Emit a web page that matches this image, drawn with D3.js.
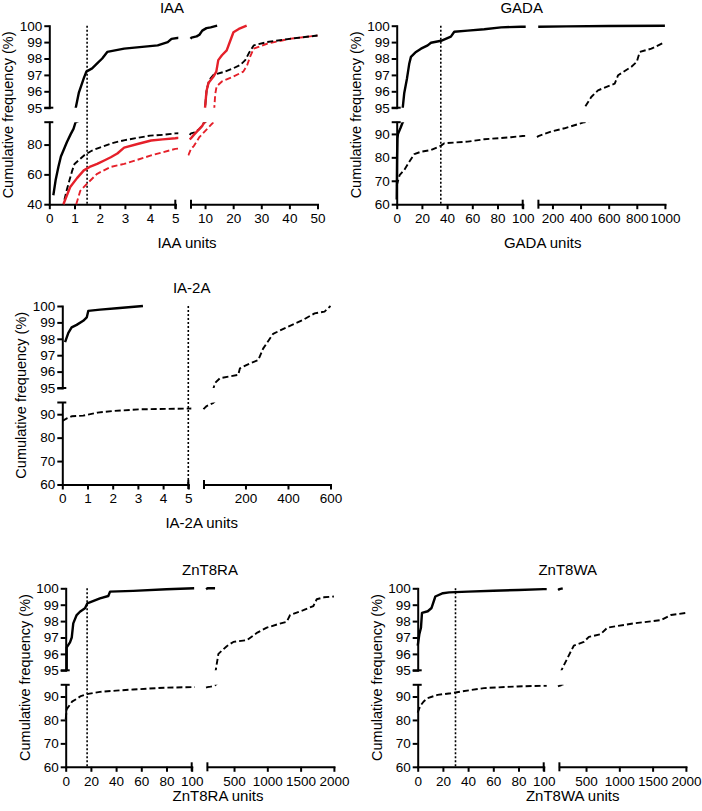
<!DOCTYPE html>
<html>
<head>
<meta charset="utf-8">
<script src="https://cdn.jsdelivr.net/npm/d3@7"></script>
<style>
body { margin: 0; background: #fff; }
text { font-family: "Liberation Sans", Arial, sans-serif; fill: #000; }
</style>
</head>
<body>
<svg id="chart" width="702" height="811"></svg>
<script>
// ---- data ----
const titles = ["IAA", "GADA", "IA-2A", "ZnT8RA", "ZnT8WA"];
const xLabels = ["IAA units", "GADA units", "IA-2A units", "ZnT8RA units", "ZnT8WA units"];
const cutoffs = [1.5, 35, 5, 17, 30];

const upperTicks = [95, 96, 97, 98, 99, 100];
const iaaLowerTicks = [40, 60, 80];
const otherLowerTicks = [60, 70, 80, 90];
const iaaLeftTicks = [0, 1, 2, 3, 4, 5];
const iaaRightTicks = [10, 20, 30, 40, 50];
const gadaLeftTicks = [0, 20, 40, 60, 80, 100];
const gadaRightTicks = [200, 400, 600, 800, 1000];
const ia2aLeftTicks = [0, 1, 2, 3, 4, 5];
const ia2aRightTicks = [200, 400, 600];
const znt8LeftTicks = [0, 20, 40, 60, 80, 100];
const znt8RightTicks = [500, 1000, 1500, 2000];

const iaaSolidBlack = [[0.16,46],[0.25,56],[0.36,65],[0.46,72],[0.56,76],[0.7,81.7],[0.85,87],[0.96,90.5],[1.03,94.3],[1.05,95],[1.17,95.9],[1.37,96.8],[1.47,97.2],[1.7,97.4],[1.9,97.7],[2.1,98.0],[2.3,98.4],[2.97,98.6],[4.3,98.8],[4.7,99.0],[4.85,99.2],[5.15,99.27],[7,99.35],[8,99.45],[9,99.7],[10.5,99.85],[12,99.9],[14.3,100]];
const iaaDashedBlack = [[0.6,43],[0.7,50],[0.8,56],[0.9,62],[1.0,67],[1.2,70],[1.4,73],[1.5,74],[1.7,76],[2.0,78],[2.5,81],[3.0,83],[3.5,84.5],[4.0,86],[4.5,86.5],[5.0,87.5],[6,88],[7,89],[8,90.5],[9,92.5],[9.6,94.6],[10.0,95.0],[10.3,95.6],[10.6,96.1],[11.5,96.7],[13,97.0],[17,97.2],[20,97.4],[22.5,97.6],[24.3,97.9],[25.5,98.3],[27.3,98.8],[32,99.0],[40,99.2],[50,99.4]];
const iaaSolidRed = [[0.56,40],[0.7,46],[0.83,51.5],[1.1,57.5],[1.37,62.7],[1.6,65],[1.9,67],[2.2,69.5],[2.44,71.5],[2.7,74],[2.97,78],[3.5,80.4],[4.04,82.7],[4.5,83.5],[5.0,84.2],[6,86.5],[7,88.5],[8,90.5],[9,92.5],[9.6,94.7],[10.0,95],[10.5,96],[11.2,96.5],[13,96.9],[14,97.2],[14.7,97.9],[16,98.2],[17.7,98.5],[19,99.1],[20.1,99.6],[22,99.8],[24.8,100]];
const iaaDashedRed = [[1.07,40],[1.23,49],[1.5,53.8],[1.9,60.4],[2.44,65],[2.97,67],[3.5,69.8],[4.04,72.7],[5.0,77.1],[6,79],[7,82],[8,85],[9,87],[10,89],[11,91],[12,93],[12.9,94.8],[13.3,95],[13.6,95.8],[14.1,96.3],[16,96.6],[20.1,96.9],[23.6,97.2],[25,97.6],[26,98.1],[27.3,98.6],[32,98.9],[40,99.2],[50,99.4]];

const gadaSolid = [[0,62],[0.3,80],[0.6,88],[1,90],[3,92.5],[4.8,95],[6,95.9],[8.2,96.8],[10,97.7],[11.3,98.1],[15.3,98.4],[19.3,98.6],[24.6,98.8],[27.2,98.96],[35.2,99.08],[43,99.33],[45.7,99.63],[56.3,99.7],[69.5,99.78],[82.8,99.9],[98.7,99.94],[300,99.96],[600,99.98],[1000,100]];
const gadaDashed = [[0,68],[2.3,72.4],[6,74.6],[10,78.1],[14,81.4],[19.3,82.4],[27.2,83.1],[35.2,85],[37.8,86],[56.3,86.7],[69.5,87.7],[90.7,88.6],[100,89.1],[190,91],[286,92.4],[405,94.6],[428,95],[476,95.65],[524,96.06],[643,96.47],[667,96.98],[762,97.5],[800,97.8],[821,98.4],[904,98.6],[1000,99]];

const ia2aSolid = [[0.11,97.8],[0.24,98.36],[0.37,98.7],[0.57,98.85],[0.83,99.1],[0.97,99.3],[1.03,99.7],[1.5,99.78],[2.16,99.86],[3.2,100]];
const ia2aDashed = [[0,87.1],[0.2,88.3],[0.37,89.1],[0.83,89.4],[1.4,90.7],[2.06,91.4],[3.1,92.1],[5,92.4],[17.6,93.5],[35,94.2],[48.6,94.8],[50,95],[56.5,95.3],[80,95.6],[166,95.8],[174,96.2],[221,96.5],[260,96.7],[270,97.0],[283,97.4],[330,98.3],[393,98.7],[470,99.15],[525,99.55],[572,99.66],[600,100]];

const znt8raSolid = [[0.8,95],[0.8,96.4],[3.4,96.7],[4.8,97],[6,97.86],[8.7,98.37],[11.3,98.57],[15.3,98.78],[17.1,99.08],[27.2,99.39],[33.8,99.53],[35.2,99.8],[53.6,99.84],[80,99.94],[102,100],[215,100]];
const znt8raDashed = [[0,80.3],[0.8,84.6],[3.4,86.5],[5,87.8],[8.7,89],[12,90.2],[16.7,91],[27.2,92],[40,92.5],[53.6,93],[80,93.8],[100,94],[150,94.2],[215,94.8],[225,95],[265,96],[391,96.47],[490,96.73],[692,96.84],[850,97.3],[992,97.6],[1150,97.8],[1292,97.96],[1342,98.37],[1542,98.67],[1692,98.92],[1742,99.33],[1850,99.45],[2000,99.5]];

const znt8waSolid = [[0,96.5],[1.3,97.2],[2.6,97.6],[3.4,98.5],[8,98.6],[11,98.8],[14,99.5],[20,99.7],[25,99.75],[40,99.8],[60,99.85],[80,99.9],[100,99.95],[150,100]];
const znt8waDashed = [[0,83.1],[1.3,85],[2.6,86.4],[5,88],[7.9,89.3],[15.8,90.7],[26.3,91.4],[34.2,92.1],[52.6,93.6],[79,94.3],[100,94.6],[125,94.8],[130,95],[216,95.7],[316,96.5],[467,96.73],[543,97.04],[720,97.2],[820,97.6],[1217,97.86],[1625,98.06],[1775,98.37],[2000,98.5]];

// ---- panels ----
const RED = "#e5202a";
const panels = [
  { xLeft: [0, 5], xRight: [5, 50], yLower: [40, 95], leftTicks: iaaLeftTicks, rightTicks: iaaRightTicks, lowerTicks: iaaLowerTicks,
    series: [{ d: iaaDashedRed, c: RED, dash: true }, { d: iaaDashedBlack, c: "#000", dash: true },
             { d: iaaSolidRed, c: RED, dash: false }, { d: iaaSolidBlack, c: "#000", dash: false }],
    ax: 49.3, top: 25.7, titleX: 172, labelX: 187, labelDy: 44 },
  { xLeft: [0, 100], xRight: [100, 1000], yLower: [60, 95], leftTicks: gadaLeftTicks, rightTicks: gadaRightTicks, lowerTicks: otherLowerTicks,
    series: [{ d: gadaDashed, c: "#000", dash: true }, { d: gadaSolid, c: "#000", dash: false }],
    ax: 396.7, top: 25.7, titleX: 521.7, labelX: 542.7, labelDy: 43.5 },
  { xLeft: [0, 5], xRight: [5, 600], yLower: [60, 95], leftTicks: ia2aLeftTicks, rightTicks: ia2aRightTicks, lowerTicks: otherLowerTicks,
    series: [{ d: ia2aDashed, c: "#000", dash: true }, { d: ia2aSolid, c: "#000", dash: false }],
    ax: 62.3, top: 306, titleX: 191.7, labelX: 201.7, labelDy: 43.8 },
  { xLeft: [0, 100], xRight: [100, 2000], yLower: [60, 95], leftTicks: znt8LeftTicks, rightTicks: znt8RightTicks, lowerTicks: otherLowerTicks,
    series: [{ d: znt8raDashed, c: "#000", dash: true }, { d: znt8raSolid, c: "#000", dash: false }],
    ax: 65.7, top: 588.3, titleX: 210, labelX: 218, labelDy: 34.5 },
  { xLeft: [0, 100], xRight: [100, 2000], yLower: [60, 95], leftTicks: znt8LeftTicks, rightTicks: znt8RightTicks, lowerTicks: otherLowerTicks,
    series: [{ d: znt8waDashed, c: "#000", dash: true }, { d: znt8waSolid, c: "#000", dash: false }],
    ax: 417.7, top: 588.3, titleX: 567.7, labelX: 572.7, labelDy: 34.5 }
];

// segment sizes
const WL = 126, GAPW = 15.7, WR = 126.5;
const HU = 82, GAPH = 14.5, HL = 82;
const bottom = HU + GAPH + HL;

const svg = d3.select("#chart");
const defs = svg.append("defs");
const fmt = d3.format("d");

// keep the points that fall inside a segment (x and y) plus one neighbour on each side
function subset(data, xdom, ydom) {
  const inside = p => p[0] >= xdom[0] && p[0] <= xdom[1] && p[1] >= ydom[0] && p[1] <= ydom[1];
  return data.filter((p, i) =>
    inside(p) || (i > 0 && inside(data[i - 1])) || (i < data.length - 1 && inside(data[i + 1])));
}

panels.forEach((p, pi) => {
  const g = svg.append("g").attr("transform", `translate(${p.ax},${p.top})`);

  const xL = d3.scaleLinear().domain(p.xLeft).range([0, WL]);
  const xR = d3.scaleLinear().domain(p.xRight).range([WL + GAPW, WL + GAPW + WR]);
  const yU = d3.scaleLinear().domain([95, 100]).range([HU, 0]);
  const yLo = d3.scaleLinear().domain(p.yLower).range([bottom, HU + GAPH]);

  // y clip is exact at the break so nothing leaks across it
  const quads = [
    { xs: xL, ys: yU, x0: -2, x1: WL + 3, y0: -3, y1: HU },
    { xs: xL, ys: yLo, x0: -2, x1: WL + 3, y0: HU + GAPH, y1: bottom + 1 },
    { xs: xR, ys: yU, x0: WL + GAPW - 3.5, x1: WL + GAPW + WR + 3, y0: -3, y1: HU },
    { xs: xR, ys: yLo, x0: WL + GAPW - 3.5, x1: WL + GAPW + WR + 3, y0: HU + GAPH, y1: bottom + 1 }
  ];

  quads.forEach((q, qi) => {
    const id = `clip-${pi}-${qi}`;
    defs.append("clipPath").attr("id", id)
      .append("rect")
      .attr("x", p.ax + q.x0).attr("y", p.top + q.y0)
      .attr("width", q.x1 - q.x0).attr("height", q.y1 - q.y0);

    const line = d3.line().x(d => q.xs(d[0])).y(d => q.ys(d[1]));
    const cg = svg.append("g").attr("clip-path", `url(#${id})`)
      .append("g").attr("transform", `translate(${p.ax},${p.top})`);

    p.series.forEach(s => {
      const pts = subset(s.d, q.xs.domain(), q.ys.domain());
      if (pts.length < 2) return;
      cg.append("path")
        .attr("d", line(pts))
        .attr("fill", "none")
        .attr("stroke", s.c)
        .attr("stroke-width", s.dash ? 1.9 : 2.4)
        .attr("stroke-dasharray", s.dash ? "6,3" : null)
        .attr("stroke-linejoin", "round");
    });
  });

  // axes
  function styleAxis(sel) {
    sel.select(".domain").attr("stroke-width", 2).attr("stroke-linecap", "square");
    sel.selectAll(".tick line").attr("stroke-width", 2);
    sel.selectAll(".tick text").style("font-size", "13.5px")
      .style("font-family", '"Liberation Sans", Arial, sans-serif');
  }
  g.append("g").call(d3.axisLeft(yU).tickValues(upperTicks).tickFormat(fmt).tickSize(5).tickSizeOuter(0).tickPadding(2)).call(styleAxis);
  g.append("g").call(d3.axisLeft(yLo).tickValues(p.lowerTicks).tickFormat(fmt).tickSize(5).tickSizeOuter(0).tickPadding(2)).call(styleAxis);
  g.append("g").attr("transform", `translate(0,${bottom})`)
    .call(d3.axisBottom(xL).tickValues(p.leftTicks).tickFormat(fmt).tickSize(5).tickSizeOuter(0).tickPadding(4.4)).call(styleAxis);
  g.append("g").attr("transform", `translate(0,${bottom})`)
    .call(d3.axisBottom(xR).tickValues(p.rightTicks).tickFormat(fmt).tickSize(5).tickSizeOuter(0).tickPadding(4.4)).call(styleAxis);

  // segment end caps
  const caps = g.append("g").attr("stroke", "#000").attr("stroke-width", 2);
  [HU, HU + GAPH].forEach(y => caps.append("line").attr("x1", -5).attr("x2", 4).attr("y1", y).attr("y2", y));
  [WL, WL + GAPW].forEach(x => caps.append("line").attr("x1", x).attr("x2", x).attr("y1", bottom - 4.5).attr("y2", bottom + 4.5));

  // cutoff
  g.append("line")
    .attr("x1", xL(cutoffs[pi])).attr("x2", xL(cutoffs[pi]))
    .attr("y1", 0).attr("y2", bottom)
    .attr("stroke", "#000").attr("stroke-width", 1.6).attr("stroke-dasharray", "2,2");

  // texts
  svg.append("text").attr("x", p.titleX).attr("y", p.top - 13)
    .attr("text-anchor", "middle").style("font-size", "15px").text(titles[pi]);
  svg.append("text").attr("x", p.labelX).attr("y", p.top + bottom + p.labelDy)
    .attr("text-anchor", "middle").style("font-size", "15px").text(xLabels[pi]);
  svg.append("text")
    .attr("transform", `translate(${p.ax - 36},${p.top + bottom / 2}) rotate(-90)`)
    .attr("text-anchor", "middle").style("font-size", "14.5px").text("Cumulative frequency (%)");
});
</script>
</body>
</html>
